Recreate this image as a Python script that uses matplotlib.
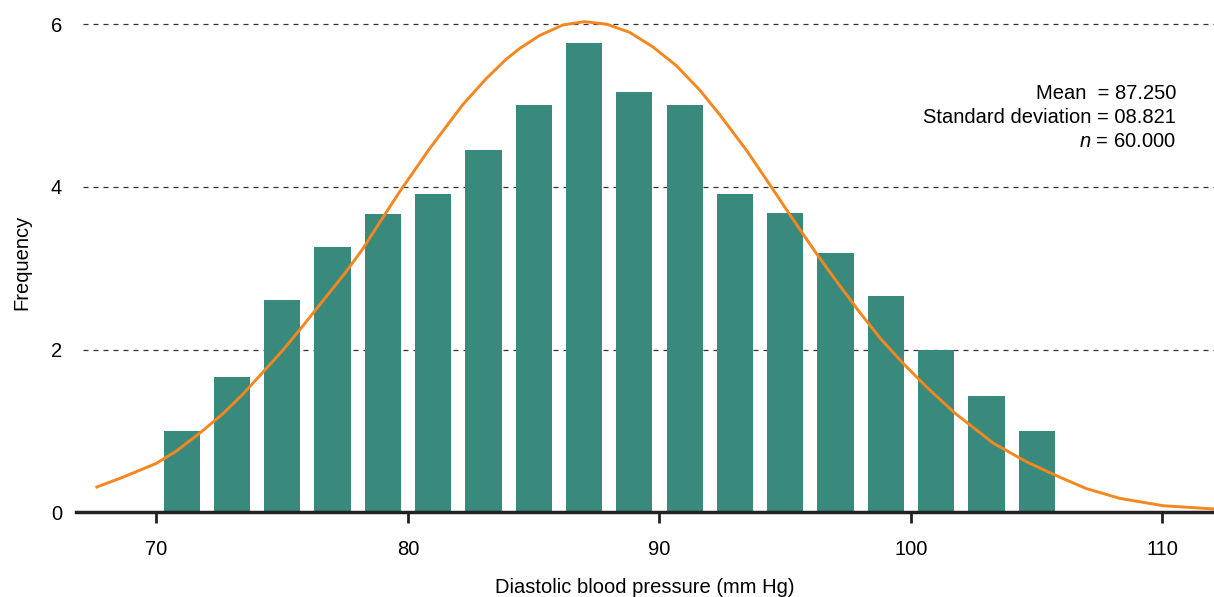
import matplotlib.pyplot as plt
import numpy as np

plt.rcParams['font.family'] = ['Liberation Sans', 'DejaVu Sans']
plt.rcParams['mathtext.fontset'] = 'custom'
plt.rcParams['mathtext.it'] = 'Liberation Sans:italic'
plt.rcParams['mathtext.rm'] = 'Liberation Sans'

# histogram bins (bin centres, mm Hg) and frequencies
bp = [71, 73, 75, 77, 79, 81, 83, 85, 87, 89, 91, 93, 95, 97, 99, 101, 103, 105]
freq = [1.0, 1.66, 2.61, 3.26, 3.67, 3.91, 4.45, 5.0, 5.77, 5.16, 5.0,
        3.91, 3.68, 3.19, 2.66, 2.0, 1.43, 1.0]

# fitted curve
curve_x = [67.63, 68.66, 69.99, 70.78, 71.71, 72.64, 73.43, 74.23, 75.02, 75.69,
           76.62, 77.5, 78.21, 78.87, 79.67, 80.86, 82.18, 83.11, 83.91, 84.44,
           85.23, 86.16, 87.02, 87.89, 88.81, 89.74, 90.67, 91.60, 92.39, 93.46,
           94.51, 95.18, 96.24, 97.04, 97.93, 98.8, 99.75, 100.62, 101.74, 103.27,
           104.59, 105.85, 106.98, 108.31, 110.03, 112.05]
curve_y = [0.31, 0.43, 0.60, 0.75, 0.97, 1.21, 1.45, 1.72, 1.99, 2.24,
           2.60, 2.94, 3.24, 3.56, 3.94, 4.47, 5.01, 5.33, 5.57, 5.70,
           5.86, 5.99, 6.03, 6.00, 5.90, 5.72, 5.49, 5.19, 4.89, 4.45,
           3.97, 3.66, 3.18, 2.84, 2.47, 2.13, 1.81, 1.54, 1.22, 0.85,
           0.62, 0.44, 0.29, 0.17, 0.08, 0.04]

xticks = [70, 80, 90, 100, 110]
yticks = [0, 2, 4, 6]

stats_lines = ['Mean  = 87.250', 'Standard deviation = 08.821', '$n$ = 60.000']

fig = plt.figure(figsize=(12.14, 5.97), dpi=100)
ax = fig.add_axes([0.0626, 0.142, 0.9374, 0.838])

ax.bar(bp, freq, width=1.44, color='#398a7d', zorder=2)
ax.plot(curve_x, curve_y, color='#f5871f', lw=2.1, zorder=3,
        solid_joinstyle='round')

ax.set_xlim(66.8, 112.05)
ax.set_ylim(0, 6.15)
ax.set_xticks(xticks)
ax.set_yticks(yticks)

for y in yticks[1:]:
    ax.axhline(y, xmin=0.006, color='#333333', lw=0.9, ls=(0, (4, 4)), zorder=1)

for s in ['top', 'right', 'left']:
    ax.spines[s].set_visible(False)
ax.spines['bottom'].set_linewidth(2.5)
ax.spines['bottom'].set_color('#222222')
ax.spines['bottom'].set_zorder(4)

ax.tick_params(axis='x', length=8, width=2, color='#222222', pad=12, labelsize=14.5)
ax.tick_params(axis='y', length=0, pad=10, labelsize=14.5)

ax.set_xlabel('Diastolic blood pressure (mm Hg)', fontsize=14.5, labelpad=14)
ax.set_ylabel('Frequency', fontsize=14.5, labelpad=14)

for i, line in enumerate(stats_lines):
    ax.text(0.9665, 0.837 - i * 0.0475, line, transform=ax.transAxes,
            ha='right', va='center', fontsize=14.5)

fig.savefig('out.png', dpi=100)
